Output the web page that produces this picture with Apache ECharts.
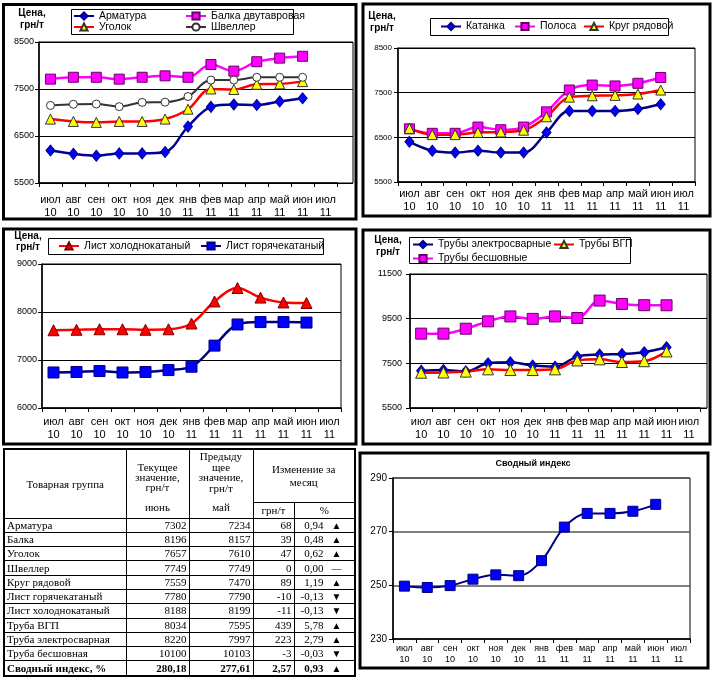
<!DOCTYPE html>
<html><head><meta charset="utf-8">
<script src="https://cdn.jsdelivr.net/npm/echarts@6/dist/echarts.min.js"></script>
<style>
html,body{margin:0;padding:0;background:#fff;}
#chart{position:absolute;left:0;top:0;width:720px;height:681px;}
#tbl{position:absolute;left:3px;top:448px;border-collapse:collapse;table-layout:fixed;width:351px;font-family:'Liberation Serif','Times New Roman',serif;font-size:11px;color:#000;border:2px solid #000;}
#tbl td{border:1px solid #000;padding:0 2px;white-space:nowrap;overflow:hidden;}
#tbl tr.d td{height:13.3px;line-height:13px;}
#tbl td.n{text-align:right;}
</style></head><body>
<div id="chart"></div>
<table id="tbl"></table>
<script>
// ---------- data ----------
const months = ['июл\n10','авг\n10','сен\n10','окт\n10','ноя\n10','дек\n10','янв\n11','фев\n11','мар\n11','апр\n11','май\n11','июн\n11','июл\n11'];
// panel 1
const armatura = [6190, 6120, 6080, 6130, 6130, 6160, 6700, 7120, 7170, 7160, 7234, 7302];
const balka    = [7710, 7750, 7750, 7710, 7750, 7780, 7750, 8020, 7880, 8080, 8157, 8196];
const ugolok   = [6860, 6810, 6790, 6810, 6810, 6860, 7070, 7500, 7490, 7600, 7610, 7657];
const shveller = [7150, 7175, 7180, 7125, 7215, 7220, 7340, 7690, 7690, 7749, 7749, 7749];
// panel 2
const katanka  = [6400, 6200, 6160, 6200, 6160, 6160, 6610, 7090, 7090, 7090, 7135, 7240];
const polosa   = [6690, 6590, 6590, 6730, 6670, 6730, 7070, 7560, 7670, 7650, 7710, 7840];
const krug     = [6700, 6560, 6560, 6610, 6620, 6660, 6960, 7400, 7430, 7440, 7470, 7559];
// panel 3
const listCold = [7620, 7630, 7640, 7640, 7630, 7640, 7760, 8220, 8500, 8300, 8199, 8188];
const listHot  = [6740, 6750, 6770, 6740, 6750, 6790, 6860, 7300, 7740, 7790, 7790, 7780];
// panel 4
const pipeWelded   = [7170, 7200, 7140, 7500, 7545, 7400, 7350, 7800, 7890, 7920, 7997, 8220];
const pipeVGP      = [7080, 7090, 7130, 7230, 7200, 7200, 7230, 7630, 7680, 7560, 7595, 8034];
const pipeSeamless = [8830, 8830, 9050, 9380, 9600, 9490, 9600, 9530, 10310, 10160, 10103, 10100];
// panel 6
const indexVals = [249.7, 249.2, 249.9, 252.3, 253.9, 253.6, 259.2, 271.7, 276.8, 276.8, 277.61, 280.18];
// table
const tGroups  = ['Арматура','Балка','Уголок','Швеллер','Круг рядовой','Лист горячекатаный','Лист холоднокатаный','Труба ВГП','Труба электросварная','Труба бесшовная','Сводный индекс, %'];
const tCurrent = ['7302','8196','7657','7749','7559','7780','8188','8034','8220','10100','280,18'];
const tPrev    = ['7234','8157','7610','7749','7470','7790','8199','7595','7997','10103','277,61'];
const tAbs     = ['68','39','47','0','89','-10','-11','439','223','-3','2,57'];
const tPct     = ['0,94','0,48','0,62','0,00','1,19','-0,13','-0,13','5,78','2,79','-0,03','0,93'];
const tTrend   = ['▲','▲','▲','—','▲','▼','▼','▲','▲','▼','▲'];

// ---------- table ----------
(function(){
  let h = '<colgroup><col style="width:122px"><col style="width:63px"><col style="width:64px"><col style="width:41px"><col style="width:61px"></colgroup>';
  h += '<tr style="height:53px"><td rowspan="2" style="text-align:center;vertical-align:middle">Товарная группа</td>' +
       '<td rowspan="2" style="text-align:center;vertical-align:top;line-height:10px;padding-top:12px">Текущее<br>значение,<br>грн/т<div style="margin-top:10px">июнь</div></td>' +
       '<td rowspan="2" style="text-align:center;vertical-align:top;line-height:10.5px;padding-top:1px">Предыду<br>щее<br>значение,<br>грн/т<div style="margin-top:9px">май</div></td>' +
       '<td colspan="2" style="text-align:center;vertical-align:middle;line-height:13px">Изменение за<br>месяц</td></tr>';
  h += '<tr style="height:16px"><td style="text-align:center">грн/т</td><td style="text-align:center">%</td></tr>';
  for (let i = 0; i < tGroups.length; i++) {
    const b = i === tGroups.length - 1 ? ' style="font-weight:bold"' : '';
    h += '<tr class="d"' + b + '><td>' + tGroups[i] + '</td><td class="n">' + tCurrent[i] + '</td><td class="n">' + tPrev[i] +
         '</td><td class="n">' + tAbs[i] + '</td><td><span style="display:inline-block;width:27px;text-align:right">' + tPct[i] +
         '</span><span style="display:inline-block;width:26px;text-align:center;font-size:10px">' + tTrend[i] + '</span></td></tr>';
  }
  document.getElementById('tbl').innerHTML = h;
})();

// ---------- chart ----------
const F = "'Liberation Sans',Arial,sans-serif";
const chart = echarts.init(document.getElementById('chart'), null, {renderer:'canvas'});

function xa(grid, extra) {
  return Object.assign({
    type:'category', gridIndex:grid, data:months, boundaryGap:true,
    axisLine:{show:true, lineStyle:{color:'#000', width:1.5}},
    axisTick:{show:true, length:4, interval:0, lineStyle:{color:'#000'}},
    axisLabel:{interval:0, fontSize:11, lineHeight:13, margin:10, color:'#000', fontFamily:F},
    splitLine:{show:false}
  }, extra || {});
}
function xh(grid) {
  return {type:'category', gridIndex:grid, data:months, show:false};
}
function ya(grid, min, max, interval, split, extra) {
  return Object.assign({
    type:'value', gridIndex:grid, min:min, max:max, interval:interval,
    axisLine:{show:true, lineStyle:{color:'#000', width:1.5}},
    axisTick:{show:true, length:4, lineStyle:{color:'#000'}},
    axisLabel:{fontSize:9, color:'#000', margin:5, fontFamily:F, formatter:function(v){return String(v);}},
    splitLine:{show:split, lineStyle:{color:'#000', width:1}}
  }, extra || {});
}
function yh(grid, min, max, interval) {
  return {type:'value', gridIndex:grid, min:min, max:max, interval:interval,
    axisLine:{show:false}, axisTick:{show:false}, axisLabel:{show:false},
    splitLine:{show:true, lineStyle:{color:'#000', width:1}}};
}
function ln(name, data, ax, lineColor, lw, symbol, size, fill, border) {
  return {
    type:'line', name:name, data:data, xAxisIndex:ax, yAxisIndex:ax,
    smooth:0.35, symbol:symbol, symbolSize:size, showSymbol:true,
    lineStyle:{color:lineColor, width:lw},
    itemStyle:{color:fill, borderColor:border, borderWidth:1},
    emphasis:{disabled:true}, animation:false, z:3
  };
}
function lg(names, left, top, orient, lh) {
  return {
    data:names, left:left, top:top, orient:orient, itemWidth:20, itemHeight:9, itemGap:orient==='vertical'?0:10,
    padding:0, selectedMode:false,
    textStyle:{fontSize:10.5, lineHeight:lh, fontFamily:F, color:'#000'}
  };
}
function txt(t, x, y, font) {
  return {type:'text', silent:true, style:{text:t, x:x, y:y, textAlign:'center', textVerticalAlign:'middle', font:font, fill:'#000'}};
}
function frame(x, y, w, h, lw) {
  return {type:'rect', silent:true, shape:{x:x, y:y, width:w, height:h}, style:{fill:'none', stroke:'#000', lineWidth:lw}, z:10};
}
const boldF = "bold 10px 'Liberation Sans', Arial, sans-serif";
const lbl = function(m, lh){ return {axisLabel:{interval:0, fontSize:11, lineHeight:lh, margin:m, color:'#000', fontFamily:F}}; };

const option = {
  backgroundColor:'#fff',
  animation:false,
  grid:[
    {left:39, top:42, width:298, height:141},
    {left:39, top:42, width:314, height:141, show:true, borderColor:'#000', borderWidth:1},
    {left:398, top:48, width:297, height:134, show:true, borderColor:'#000', borderWidth:1},
    {left:42, top:264, width:299, height:144, show:true, borderColor:'#000', borderWidth:1},
    {left:410, top:274, width:290, height:134},
    {left:410, top:274, width:297, height:134, show:true, borderColor:'#000', borderWidth:1},
    {left:393, top:478, width:297, height:161, show:true, borderColor:'#000', borderWidth:1}
  ],
  xAxis:[
    xa(0), xh(1), xa(2, lbl(6, 12.5)), xa(3, lbl(8, 12.5)), xa(4, lbl(8, 12.5)), xh(5),
    xa(6, {axisLabel:{interval:0, fontSize:9, lineHeight:11, margin:4, color:'#000', fontFamily:F}})
  ],
  yAxis:[
    ya(0, 5500, 8500, 1000, false), yh(1, 5500, 8500, 1000),
    ya(2, 5500, 8500, 1000, true, {axisLabel:{fontSize:8, color:'#000', margin:6, fontFamily:F, formatter:function(v){return String(v);}}}),
    ya(3, 6000, 9000, 1000, true),
    ya(4, 5500, 11500, 2000, false, {axisLabel:{fontSize:9, color:'#000', margin:8, fontFamily:F, formatter:function(v){return String(v);}}}),
    yh(5, 5500, 11500, 2000),
    ya(6, 230, 290, 20, true, {splitLine:{show:true, lineStyle:{color:'#555', width:1.5}},
      axisLabel:{fontSize:10, color:'#000', margin:6, fontFamily:F, formatter:function(v){return String(v);}}})
  ],
  legend:[
    lg(['Арматура','Уголок'], 73, 10.5, 'vertical', 11),
    lg(['Балка двутавровая','Швеллер'], 185, 10.5, 'vertical', 11),
    lg(['Катанка'], 440, 20.5, 'horizontal', 12),
    lg(['Полоса'], 514, 20.5, 'horizontal', 12),
    lg(['Круг рядовой'], 583, 20.5, 'horizontal', 12),
    lg(['Лист холоднокатаный'], 58, 240, 'horizontal', 12),
    lg(['Лист горячекатаный'], 200, 240, 'horizontal', 12),
    lg(['Трубы электросварные','Трубы бесшовные'], 412, 237.5, 'vertical', 14),
    lg(['Трубы ВГП'], 553, 237.5, 'vertical', 14)
  ],
  series:[
    ln('Арматура', armatura, 0, '#000099', 2.5, 'diamond', [9,11], '#0000FF', '#000080'),
    ln('Балка двутавровая', balka, 0, '#FF00FF', 2.5, 'rect', 10, '#FF00FF', '#660066'),
    ln('Уголок', ugolok, 0, '#FF0000', 2.5, 'triangle', 10, '#FFFF00', '#333333'),
    ln('Швеллер', shveller, 0, '#333333', 2, 'circle', 8, '#FFFFFF', '#333333'),

    ln('Катанка', katanka, 2, '#000080', 2.5, 'diamond', [9,11], '#0000FF', '#000080'),
    ln('Полоса', polosa, 2, '#FF00FF', 2.5, 'rect', 10, '#FF00FF', '#660066'),
    ln('Круг рядовой', krug, 2, '#FF0000', 2.5, 'triangle', 10, '#FFFF00', '#333333'),

    ln('Лист холоднокатаный', listCold, 3, '#FF0000', 2.5, 'triangle', 11, '#FF0000', '#800000'),
    ln('Лист горячекатаный', listHot, 3, '#000080', 2.5, 'rect', 11, '#0000FF', '#000080'),

    ln('Трубы электросварные', pipeWelded, 4, '#000080', 2.5, 'diamond', [9,11], '#0000FF', '#000080'),
    ln('Трубы ВГП', pipeVGP, 4, '#FF0000', 2.5, 'triangle', 11, '#FFFF00', '#333333'),
    ln('Трубы бесшовные', pipeSeamless, 4, '#FF00FF', 2.5, 'rect', 11, '#FF00FF', '#660066'),

    ln('Сводный индекс', indexVals, 6, '#000080', 2, 'rect', 10, '#0000FF', '#000080')
  ],
  graphic:[
    frame(3.5, 4.5, 352.5, 214.5, 3),
    frame(363, 4, 347, 212, 3),
    frame(3.5, 229, 352.5, 215, 3),
    frame(363, 230, 347, 214, 3),
    frame(360, 453, 348, 215, 3),
    frame(71.5, 9.5, 222, 25, 1),
    frame(430.5, 18.5, 238, 17, 1),
    frame(48.5, 238.5, 275, 16, 1),
    frame(409.5, 237.5, 221, 26, 1),
    txt('Цена,', 32, 13, boldF), txt('грн/т', 32, 25, boldF),
    txt('Цена,', 382, 16, boldF), txt('грн/т', 382, 28, boldF),
    txt('Цена,', 28, 236, boldF), txt('грн/т', 28, 247, boldF),
    txt('Цена,', 388, 240, boldF), txt('грн/т', 388, 252, boldF),
    txt('Сводный индекс', 533, 464, "bold 9px 'Liberation Sans', Arial, sans-serif")
  ]
};
chart.setOption(option);
</script>
</body></html>
